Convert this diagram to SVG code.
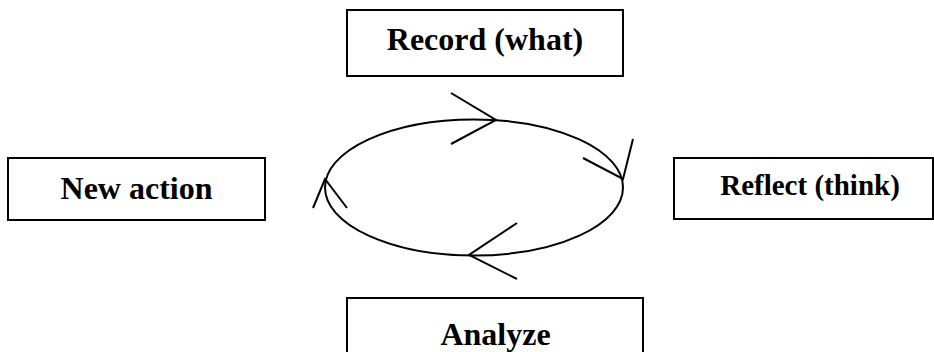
<svg xmlns="http://www.w3.org/2000/svg" width="934" height="352" viewBox="0 0 934 352">
  <style>
    .box { fill: #ffffff; stroke: #000000; stroke-width: 2; }
    .label { font-family: "Liberation Serif", "Times New Roman", serif; font-weight: bold; font-size: 32px; fill: #000000; text-anchor: middle; }
    .cycle { fill: none; stroke: #000000; stroke-width: 2; }
    .head { fill: none; stroke: #000000; stroke-width: 2; stroke-linecap: butt; stroke-linejoin: miter; }
  </style>
  <rect width="934" height="352" fill="#ffffff"/>

  <g id="record">
    <rect class="box" x="347" y="10" width="276" height="66"/>
    <text class="label" x="485" y="50">Record (what)</text>
  </g>

  <g id="new-action">
    <rect class="box" x="8" y="158" width="257" height="62"/>
    <text class="label" x="136.5" y="199">New action</text>
  </g>

  <g id="reflect">
    <rect class="box" x="674" y="158" width="259" height="61"/>
    <text class="label" x="810" y="195" style="font-size:29px">Reflect (think)</text>
  </g>

  <g id="analyze">
    <rect class="box" x="347" y="298" width="296" height="70"/>
    <text class="label" x="495.5" y="345">Analyze</text>
  </g>

  <g id="connectors">
    <ellipse class="cycle" cx="474" cy="187.5" rx="149" ry="68"/>
    <polyline class="head" points="451,93 496,120 451,144"/>
    <polyline class="head" points="583,158 623,179 633,139"/>
    <polyline class="head" points="517,223 469,255 517,279"/>
    <polyline class="head" points="313,208 325,179 347,208"/>
  </g>
</svg>
